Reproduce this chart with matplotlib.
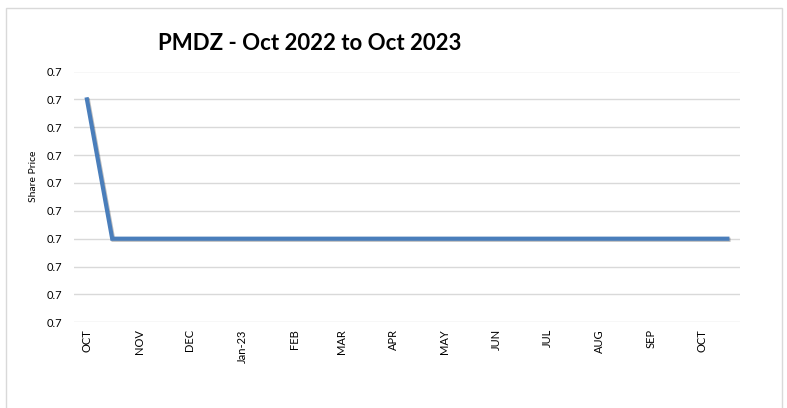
import matplotlib
matplotlib.use("Agg")
import matplotlib.pyplot as plt
import matplotlib.patheffects as pe
from matplotlib.patches import Rectangle
import datetime as dt

# data
dates = ["2022-10-01", "2022-10-16", "2023-01-16", "2023-04-16", "2023-07-16", "2023-10-16"]
price = [0.7008, 0.7003, 0.7003, 0.7003, 0.7003, 0.7003]

tick_dates = ["2022-10-01", "2022-11-01", "2022-12-01", "2023-01-01", "2023-02-01", "2023-03-01",
              "2023-04-01", "2023-05-01", "2023-06-01", "2023-07-01", "2023-08-01", "2023-09-01",
              "2023-10-01"]
tick_labels = ["OCT", "NOV", "DEC", "Jan-23", "FEB", "MAR", "APR", "MAY", "JUN", "JUL", "AUG", "SEP", "OCT"]
y_ticks = [0.7000, 0.7001, 0.7002, 0.7003, 0.7004, 0.7005, 0.7006, 0.7007, 0.7008, 0.7009]

plt.rcParams["font.family"] = ["Lato", "DejaVu Sans"]

x = [dt.datetime.strptime(d, "%Y-%m-%d") for d in dates]
xt = [dt.datetime.strptime(d, "%Y-%m-%d") for d in tick_dates]

fig = plt.figure(figsize=(7.87, 4.08), dpi=100)
ax = fig.add_axes([74 / 787, 1 - 322.3 / 408, (740 - 74) / 787, (322.3 - 71.5) / 408])

ax.plot(x, price, color="#4A7EBB", linewidth=3.0, solid_joinstyle="miter",
        path_effects=[pe.SimpleLineShadow(offset=(0.8, -0.8), alpha=0.25), pe.Normal()])

ax.set_xlim(dt.datetime(2022, 9, 23, 8), dt.datetime(2023, 10, 23, 12))
ax.set_ylim(y_ticks[0], y_ticks[-1])
ax.set_yticks(y_ticks)
ax.set_yticklabels(["%.1f" % v for v in y_ticks])
ax.set_xticks(xt)
ax.set_xticklabels(tick_labels, rotation=90, va="top", ha="center")
ax.tick_params(axis="both", length=0, labelsize=8, colors="#000000")
ax.tick_params(axis="x", pad=5)
ax.tick_params(axis="y", pad=8.5)

ax.grid(axis="y", color="#D9D9D9", linewidth=1)
ax.set_axisbelow(True)
for s in ax.spines.values():
    s.set_visible(False)

ax.set_ylabel("Share Price", fontsize=7.5)
ax.yaxis.set_label_coords((38 - 74) / 666, (322.3 - 176) / 250.8)
fig.text(309.5 / 787, 1 - 43 / 408, "PMDZ - Oct 2022 to Oct 2023", ha="center", va="center",
         fontsize=16, fontweight="bold")

fig.patches.append(Rectangle((5.5 / 787, -0.05), 776.5 / 787, 1.05 - 8.5 / 408,
                             transform=fig.transFigure, fill=False, edgecolor="#D9D9D9", linewidth=1))

fig.savefig("out.png", dpi=100)
